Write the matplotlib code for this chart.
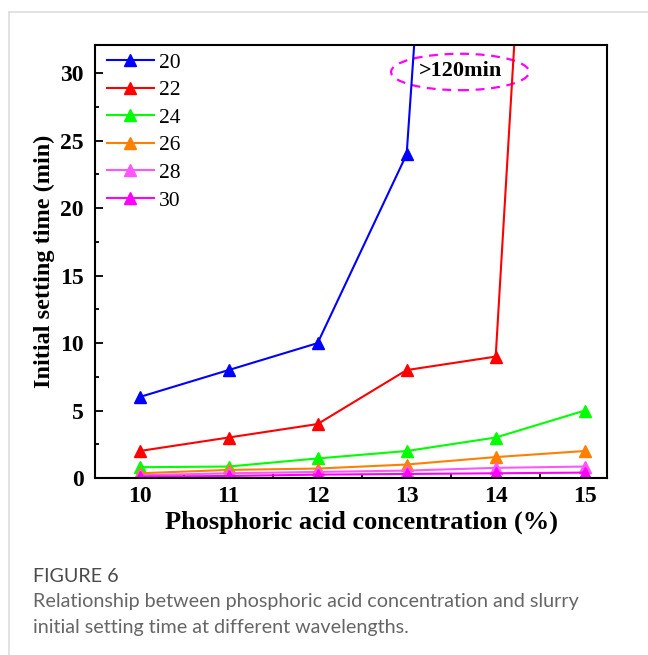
import numpy as np
import matplotlib
matplotlib.use("Agg")
import matplotlib.pyplot as plt
from matplotlib.patches import Ellipse
from matplotlib.lines import Line2D

# data
conc = [10, 11, 12, 13, 14, 15]
labels = ["20", "22", "24", "26", "28", "30"]
t20 = [6, 8, 10, 24, 120, 120]
t22 = [2, 3, 4, 8, 9, 120]
t24 = [0.8, 0.85, 1.45, 2.0, 3.0, 5.0]
t26 = [0.35, 0.6, 0.7, 1.0, 1.55, 2.0]
t28 = [0.2, 0.35, 0.45, 0.55, 0.75, 0.85]
t30 = [0.1, 0.15, 0.25, 0.3, 0.35, 0.4]
series = [t20, t22, t24, t26, t28, t30]
colors = ["#0000FF", "#FF0000", "#00FF00", "#FF8000", "#FF55FF", "#FF00FF"]

serif = ["Liberation Serif", "DejaVu Serif"]
sans = ["Lato", "DejaVu Sans"]

fig = plt.figure(figsize=(6.48, 6.55), dpi=100)

# frame of the figure panel
fig.add_artist(Line2D([9/648, 1], [1-12/655, 1-12/655], color="#dddddd", lw=1.2))
fig.add_artist(Line2D([9/648, 9/648], [0, 1-12/655], color="#dddddd", lw=1.2))

ax = fig.add_axes([95/648, 1-478/655, 512/648, 433/655])
for y, lab, c in zip(series, labels, colors):
    ax.plot(conc, y, color=c, lw=1.5, marker="^", ms=8.5, label=lab)

ax.set_xlim(9.5, 15.25)
ax.set_ylim(0, 32.1)
ax.set_xticks(conc)
ax.set_yticks([0, 5, 10, 15, 20, 25, 30])
ax.set_xticks(np.arange(9.5, 15.3, 0.5), minor=True)
ax.set_yticks(np.arange(0, 32.1, 2.5), minor=True)
ax.tick_params(which="both", direction="in", width=1.3)
ax.tick_params(which="major", length=6, labelsize=17)
ax.tick_params(which="minor", length=3)
ax.tick_params(axis="y", which="major", pad=8)
ax.tick_params(axis="x", which="major", pad=6)
for s in ax.spines.values():
    s.set_linewidth(1.5)
for t in ax.get_xticklabels() + ax.get_yticklabels():
    t.set_fontfamily(serif)
    t.set_fontweight("bold")

ax.set_xlabel("Phosphoric acid concentration (%)", fontsize=19, fontweight="bold",
              family=serif)
ax.xaxis.set_label_coords(0.52, -0.075)
ax.set_ylabel("Initial setting time (min)", fontsize=17.5, fontweight="bold",
              family=serif, labelpad=4)

ell = Ellipse((13.6, 30.1), 1.55, 2.7, fill=False, ec="#FF00FF", lw=1.6, ls=(0, (4, 3)))
ax.add_patch(ell)
ax.text(13.6, 30.2, ">120min", ha="center", va="center", fontsize=16,
        fontweight="bold", family=serif)

leg = ax.legend(loc="upper left", frameon=False, prop={"family": serif, "size": 15.5},
                handlelength=2.2, handletextpad=0.25, labelspacing=0.35,
                borderaxespad=0.1, borderpad=0.25, bbox_to_anchor=(0.008, 1.0))

fig.text(33/648, 1-576/655, "FIGURE 6", fontsize=14.2, color="#4a4a4a",
         family=sans, va="center")
fig.text(33/648, 1-601/655, "Relationship between phosphoric acid concentration and slurry",
         fontsize=14.2, color="#666666", family=sans, va="center")
fig.text(33/648, 1-627/655, "initial setting time at different wavelengths.",
         fontsize=14.2, color="#666666", family=sans, va="center")

fig.savefig("out.png", dpi=100)
